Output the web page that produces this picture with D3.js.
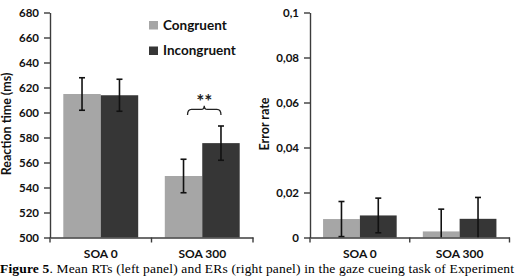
<!DOCTYPE html>
<html>
<head>
<meta charset="utf-8">
<script src="https://cdn.jsdelivr.net/npm/d3@7"></script>
<style>
  body { margin: 0; background: #fff; }
  svg { display: block; }
  .tick text { font-family: Lato, "Open Sans", sans-serif; font-weight: bold; font-size: 11.5px; fill: #111; }
</style>
</head>
<body>
<svg id="chart"></svg>
<script>
// data
const conditions = ["SOA 0", "SOA 300"];
const series = ["Congruent", "Incongruent"];
const colors = ["#a6a6a6", "#363636"];

const rtMeans = [[614.8, 613.8], [549.2, 575.5]];   // [condition][series]
const rtErrors = [[13.0, 12.8], [13.4, 13.7]];
const rtTicks = [500, 520, 540, 560, 580, 600, 620, 640, 660, 680];
const rtTickLabels = ["500", "520", "540", "560", "580", "600", "620", "640", "660", "680"];

const erMeans = [[0.0082, 0.0098], [0.0027, 0.0083]];
const erErrors = [[0.0078, 0.0077], [0.0099, 0.0095]];
const erTicks = [0, 0.02, 0.04, 0.06, 0.08, 0.1];
const erTickLabels = ["0", "0,02", "0,04", "0,06", "0,08", "0,1"];

const width = 515, height = 276;
const svg = d3.select("#chart").attr("width", width).attr("height", height);

const axisColor = "#3c3c3c";

function panel(opts) {
    const g = svg.append("g");

    const y = d3.scaleLinear().domain(opts.domain).range([237.5, 12.5]);
    const x0 = d3.scaleBand().domain(conditions).range([opts.left, opts.right]);
    const x1 = d3.scaleBand().domain(series).range([0, x0.bandwidth()]).paddingOuter(0.355);

    // bars
    conditions.forEach(function(c, i) {
        series.forEach(function(s, j) {
            const v = opts.means[i][j];
            g.append("rect")
                .attr("x", x0(c) + x1(s))
                .attr("y", y(v))
                .attr("width", x1.bandwidth())
                .attr("height", y(opts.domain[0]) - y(v))
                .attr("fill", colors[j]);
        });
    });

    // error bars
    conditions.forEach(function(c, i) {
        series.forEach(function(s, j) {
            const v = opts.means[i][j], e = opts.errors[i][j];
            const cx = x0(c) + x1(s) + x1.bandwidth() / 2;
            const lo = Math.max(v - e, opts.domain[0]);
            g.append("line")
                .attr("x1", cx).attr("x2", cx)
                .attr("y1", y(v + e)).attr("y2", y(lo))
                .attr("stroke", "#111").attr("stroke-width", 1.6);
            const caps = v - e >= opts.domain[0] ? [v + e, v - e] : [v + e];
            caps.forEach(function(cv) {
                g.append("line")
                    .attr("x1", cx - 3).attr("x2", cx + 3)
                    .attr("y1", y(cv)).attr("y2", y(cv))
                    .attr("stroke", "#111").attr("stroke-width", 1.6);
            });
        });
    });

    // y axis
    const yAxis = g.append("g")
        .attr("transform", "translate(" + opts.left + ",0)")
        .call(d3.axisLeft(y).tickValues(opts.ticks)
            .tickFormat(function(d, i) { return opts.tickLabels[i]; })
            .tickSize(6).tickPadding(5).tickSizeOuter(0));
    yAxis.selectAll("line, path").attr("stroke", axisColor).attr("stroke-width", 1.4);

    // x axis: line with ticks at category boundaries
    const xAxis = g.append("g")
        .attr("transform", "translate(0," + y(opts.domain[0]) + ")")
        .call(d3.axisBottom(x0).tickSize(0).tickPadding(12));
    xAxis.select("path").attr("stroke", axisColor).attr("stroke-width", 1.4);
    xAxis.selectAll(".tick text").style("font-size", "12px");
    const bounds = conditions.map(function(c) { return x0(c); }).concat([opts.right]);
    xAxis.selectAll(".bound")
        .data(bounds)
        .enter().append("line")
        .attr("x1", function(d) { return d; }).attr("x2", function(d) { return d; })
        .attr("y1", 0).attr("y2", 5)
        .attr("stroke", axisColor).attr("stroke-width", 1.4);

    // y label
    g.append("text")
        .attr("transform", "translate(" + opts.labelX + ",124) rotate(-90)")
        .attr("text-anchor", "middle")
        .attr("font-family", "Lato, 'Open Sans', sans-serif")
        .attr("font-weight", "bold")
        .attr("font-size", "12.5px")
        .attr("fill", "#111")
        .text(opts.label);

    return { x0: x0, x1: x1, y: y };
}

const left = panel({
    left: 50, right: 253, domain: [500, 680],
    means: rtMeans, errors: rtErrors, ticks: rtTicks, tickLabels: rtTickLabels,
    label: "Reaction time (ms)", labelX: 11
});

panel({
    left: 310, right: 509.5, domain: [0, 0.1],
    means: erMeans, errors: erErrors, ticks: erTicks, tickLabels: erTickLabels,
    label: "Error rate", labelX: 269
});

// significance bracket over SOA 300
const bx1 = left.x0("SOA 300") + left.x1("Congruent") + left.x1.bandwidth() / 2 + 4;
const bx2 = left.x0("SOA 300") + left.x1("Incongruent") + left.x1.bandwidth() / 2;
const bm = (bx1 + bx2) / 2;
const yb = left.y(598), yt = left.y(602.5), yp = left.y(605.5);
svg.append("path")
    .attr("d", "M" + bx1 + "," + yb + " Q" + bx1 + "," + yt + " " + (bx1 + 4) + "," + yt +
        " L" + (bm - 3) + "," + yt + " Q" + bm + "," + yt + " " + bm + "," + yp +
        " Q" + bm + "," + yt + " " + (bm + 3) + "," + yt +
        " L" + (bx2 - 4) + "," + yt + " Q" + bx2 + "," + yt + " " + bx2 + "," + yb)
    .attr("fill", "none")
    .attr("stroke", "#222")
    .attr("stroke-width", 1.3);
svg.append("text")
    .attr("x", bm)
    .attr("y", left.y(603) - 1)
    .attr("text-anchor", "middle")
    .attr("font-family", "Lato, 'Open Sans', sans-serif")
    .attr("font-weight", "bold")
    .attr("font-size", "19px")
    .attr("fill", "#222")
    .text("**");

// legend
const legend = svg.append("g").attr("transform", "translate(149,21)");
series.forEach(function(s, i) {
    legend.append("rect")
        .attr("x", 0).attr("y", i * 25.5)
        .attr("width", 9).attr("height", 8.5)
        .attr("fill", colors[i]);
    legend.append("text")
        .attr("x", 14).attr("y", i * 25.5 + 8.5)
        .attr("font-family", "Lato, 'Open Sans', sans-serif")
        .attr("font-weight", "bold")
        .attr("font-size", "13.5px")
        .attr("fill", "#111")
        .text(s);
});

// caption
const caption = svg.append("text")
    .attr("x", 0).attr("y", 273)
    .attr("font-family", "'Liberation Serif', 'Times New Roman', serif")
    .attr("font-size", "13.5px")
    .attr("fill", "#000")
    .attr("textLength", 514)
    .attr("lengthAdjust", "spacing");
caption.append("tspan").attr("font-weight", "bold").text("Figure 5");
caption.append("tspan").text(". Mean RTs (left panel) and ERs (right panel) in the gaze cueing task of Experiment");
</script>
</body>
</html>
